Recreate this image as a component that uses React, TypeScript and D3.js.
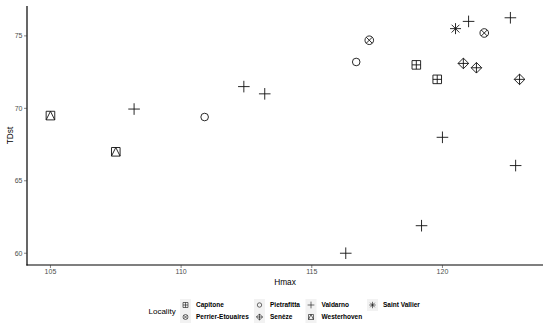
import React from "react";
import * as d3 from "d3";

// localities in legend order (column-major, 2 rows)
const localities = ["Capitone", "Perrier-Etouaires", "Pietrafitta", "Senèze", "Valdarno", "Westerhoven", "Saint Vallier"];
const shapes = ["squarePlus", "circleX", "circle", "diamondPlus", "plus", "squareTriangle", "asterisk"];

const capitone = [[119.0, 73.0], [119.8, 72.0]];
const perrier = [[117.2, 74.7], [121.6, 75.2]];
const pietrafitta = [[110.9, 69.4], [116.7, 73.2]];
const seneze = [[120.8, 73.1], [121.3, 72.8], [122.95, 72.0]];
const valdarno = [
  [108.2, 69.95], [112.4, 71.5], [113.2, 71.0], [116.3, 60.0], [119.2, 61.9],
  [120.0, 68.0], [122.8, 66.05], [121.0, 76.0], [122.6, 76.25],
];
const westerhoven = [[105.0, 69.5], [107.5, 67.0]];
const saintVallier = [[120.5, 75.5]];

const seriesData = [capitone, perrier, pietrafitta, seneze, valdarno, westerhoven, saintVallier];

const xTicks = [105, 110, 115, 120];
const yTicks = [60, 65, 70, 75];

const W = 550, H = 327;
const left = 27, right = 543, top = 6, bottom = 265;
const font = "'Liberation Sans', Arial, sans-serif";

function Symbol({ shape, x, y, s = 1, w = 0.9 }) {
  const st = { fill: "none", stroke: "#111", strokeWidth: w / s };
  const t = `translate(${x},${y}) scale(${s})`;
  if (shape === "plus")
    return <path d="M-5.8,0H5.8M0,-5.8V5.8" transform={t} {...st} />;
  if (shape === "circle")
    return <circle r={3.8} transform={t} {...st} />;
  if (shape === "squarePlus")
    return <path d="M-4.3,-4.3H4.3V4.3H-4.3ZM-4.3,0H4.3M0,-4.3V4.3" transform={t} {...st} />;
  if (shape === "circleX")
    return (
      <g transform={t}>
        <circle r={4.3} {...st} />
        <path d="M-3,-3L3,3M-3,3L3,-3" {...st} />
      </g>
    );
  if (shape === "diamondPlus")
    return <path d="M0,-5.3L5.3,0L0,5.3L-5.3,0ZM-5.3,0H5.3M0,-5.3V5.3" transform={t} {...st} />;
  if (shape === "squareTriangle")
    return <path d="M-4.3,-4.3H4.3V4.3H-4.3ZM-4.3,4.3L0,-4.3L4.3,4.3" transform={t} {...st} />;
  // asterisk
  return <path d="M-5.5,0H5.5M0,-5.5V5.5M-3.9,-3.9L3.9,3.9M-3.9,3.9L3.9,-3.9" transform={t} {...st} />;
}

export default function App() {
  const all = seriesData.flat();
  const xe = d3.extent(all, (d) => d[0]);
  const ye = d3.extent(all, (d) => d[1]);
  const xp = (xe[1] - xe[0]) * 0.05;
  const yp = (ye[1] - ye[0]) * 0.05;
  const x = d3.scaleLinear().domain([xe[0] - xp, xe[1] + xp]).range([left, right]);
  const y = d3.scaleLinear().domain([ye[0] - yp, ye[1] + yp]).range([bottom, top]);

  const legendCols = [185.5, 259.5, 311, 372.5];
  const legendRows = [305, 317];

  return (
    <svg width={W} height={H} style={{ position: "absolute", left: 0, top: 0, background: "#fff" }} fontFamily={font}>
      {/* axes */}
      <line x1={left} x2={left} y1={top} y2={bottom + 0.6} stroke="#000" strokeWidth={1.2} />
      <line x1={left - 0.6} x2={right} y1={bottom} y2={bottom} stroke="#000" strokeWidth={1.2} />
      {yTicks.map((t) => (
        <g key={"y" + t}>
          <line x1={left - 3} x2={left} y1={y(t)} y2={y(t)} stroke="#333" strokeWidth={0.6} />
          <text x={left - 4.5} y={y(t)} dy="0.35em" textAnchor="end" fontSize={7} fill="#4d4d4d">{t}</text>
        </g>
      ))}
      {xTicks.map((t) => (
        <g key={"x" + t}>
          <line x1={x(t)} x2={x(t)} y1={bottom} y2={bottom + 3} stroke="#333" strokeWidth={0.6} />
          <text x={x(t)} y={bottom + 7} dy="0.35em" textAnchor="middle" fontSize={7} fill="#4d4d4d">{t}</text>
        </g>
      ))}
      <text x={(left + right) / 2} y={282} dy="0.35em" textAnchor="middle" fontSize={8.3} fill="#000">Hmax</text>
      <text transform={`translate(10,${(top + bottom) / 2}) rotate(-90)`} dy="0.35em" textAnchor="middle" fontSize={8.3} fill="#000">TDst</text>

      {/* points */}
      {seriesData.map((pts, i) =>
        pts.map((d, j) => <Symbol key={i + "-" + j} shape={shapes[i]} x={x(d[0])} y={y(d[1])} />)
      )}

      {/* legend */}
      <text x={148.5} y={311} dy="0.35em" fontSize={8} fill="#000">Locality</text>
      {localities.map((name, i) => {
        const cx = legendCols[Math.floor(i / 2)];
        const cy = legendRows[i % 2];
        return (
          <g key={name}>
            <rect x={cx - 5.5} y={cy - 6} width={11} height={12} fill="#f2f2f2" />
            <Symbol shape={shapes[i]} x={cx} y={cy} s={0.58} w={0.6} />
            <text x={cx + 10.5} y={cy} dy="0.35em" fontSize={6.5} fontWeight="bold" fill="#000">{name}</text>
          </g>
        );
      })}
    </svg>
  );
}
